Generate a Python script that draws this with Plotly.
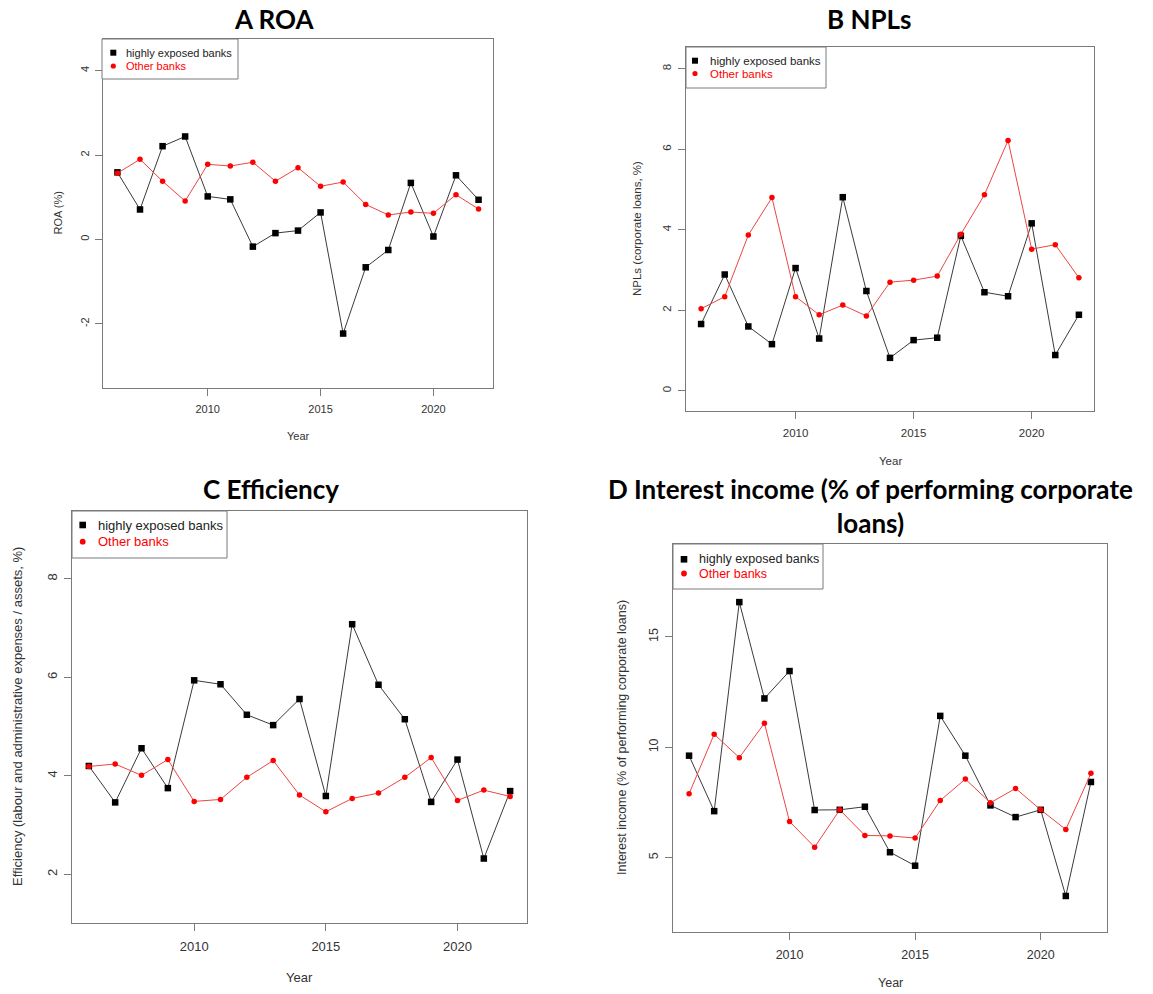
import plotly.graph_objects as go

W, H = 1153, 994

years = list(range(2006, 2023))
x_tick_vals = [2010, 2015, 2020]
x_tick_text = ["2010", "2015", "2020"]

# Panel A: ROA (%)
roa_high = [1.59, 0.71, 2.21, 2.44, 1.02, 0.95, -0.17, 0.15, 0.21, 0.64, -2.23, -0.66, -0.25, 1.34, 0.07, 1.52, 0.94]
roa_other = [1.57, 1.90, 1.38, 0.91, 1.78, 1.74, 1.83, 1.38, 1.70, 1.26, 1.36, 0.83, 0.58, 0.65, 0.62, 1.06, 0.72]
roa_ticks = [-2, 0, 2, 4]
roa_tick_text = ["-2", "0", "2", "4"]

# Panel B: NPLs (corporate loans, %)
npl_high = [1.66, 2.89, 1.60, 1.16, 3.05, 1.30, 4.81, 2.48, 0.82, 1.26, 1.32, 3.85, 2.45, 2.35, 4.16, 0.89, 1.89]
npl_other = [2.04, 2.34, 3.87, 4.80, 2.34, 1.89, 2.13, 1.86, 2.70, 2.75, 2.85, 3.89, 4.87, 6.22, 3.52, 3.63, 2.81]
npl_ticks = [0, 2, 4, 6, 8]
npl_tick_text = ["0", "2", "4", "6", "8"]

# Panel C: Efficiency
eff_high = [4.20, 3.46, 4.56, 3.75, 5.94, 5.86, 5.24, 5.03, 5.56, 3.59, 7.08, 5.85, 5.15, 3.47, 4.33, 2.32, 3.69]
eff_other = [4.19, 4.24, 4.01, 4.33, 3.48, 3.52, 3.97, 4.31, 3.61, 3.27, 3.54, 3.65, 3.97, 4.37, 3.50, 3.71, 3.58]
eff_ticks = [2, 4, 6, 8]
eff_tick_text = ["2", "4", "6", "8"]

# Panel D: Interest income
ii_high = [9.62, 7.11, 16.57, 12.21, 13.45, 7.16, 7.17, 7.31, 5.25, 4.64, 11.42, 9.62, 7.37, 6.84, 7.17, 3.27, 8.43]
ii_other = [7.90, 10.59, 9.53, 11.09, 6.64, 5.48, 7.17, 6.01, 5.99, 5.89, 7.59, 8.56, 7.49, 8.14, 7.17, 6.28, 8.82]
ii_ticks = [5, 10, 15]
ii_tick_text = ["5", "10", "15"]

series_names = ["highly exposed banks", "Other banks"]

panels = [
    dict(title="A ROA", title_xy=(274, 19), box=(103, 39, 493, 388), font=11,
         yr=[-3.52, 4.75], high=roa_high, other=roa_other, yt=roa_ticks, ytt=roa_tick_text,
         ytitle="ROA (%)", ytitle_x=57, xtitle_y=436,
         leg=dict(box=(102, 39, 238, 79), mx=113.3, rows=(52.7, 66.0), tx=124.3)),
    dict(title="B NPLs", title_xy=(869, 19), box=(686, 47, 1094, 411), font=11.5,
         yr=[-0.50, 8.54], high=npl_high, other=npl_other, yt=npl_ticks, ytt=npl_tick_text,
         ytitle="NPLs (corporate loans, %)", ytitle_x=637, xtitle_y=461,
         leg=dict(box=(686, 47, 826, 88), mx=695.0, rows=(60.7, 73.5), tx=707.7)),
    dict(title="C Efficiency", title_xy=(271, 489), box=(72, 511, 527, 923), font=13,
         yr=[1.01, 9.38], high=eff_high, other=eff_other, yt=eff_ticks, ytt=eff_tick_text,
         ytitle="Efficiency (labour and administrative expenses / assets, %)", ytitle_x=17,
         xtitle_y=977,
         leg=dict(box=(72, 511, 227, 558), mx=82.7, rows=(525.0, 541.7), tx=96.0)),
    dict(title="D Interest income (% of performing corporate<br>loans)", title_xy=(870, 506),
         box=(673, 544, 1107, 932), font=12.5,
         yr=[1.64, 19.2], high=ii_high, other=ii_other, yt=ii_ticks, ytt=ii_tick_text,
         ytitle="Interest income (% of performing corporate loans)", ytitle_x=622,
         xtitle_y=983,
         leg=dict(box=(673, 544, 823, 589), mx=684.0, rows=(559.3, 573.5), tx=697.3)),
]

fig = go.Figure()
layout = dict(width=W, height=H, margin=dict(l=0, r=0, t=0, b=0),
              paper_bgcolor="white", plot_bgcolor="white", showlegend=False)
annotations = []
shapes = []

BOX = "#7a7a7a"
TXT = "#333333"
FONT = "Liberation Sans, Arial"


def px(x):
    return x / W


def py(y):
    return 1 - y / H


for i, p in enumerate(panels):
    n = "" if i == 0 else str(i + 1)
    xa, ya = "x" + n, "y" + n
    x0, y0, x1, y1 = p["box"]
    fs = p["font"]
    # lines
    fig.add_trace(go.Scatter(x=years, y=p["high"], mode="lines", xaxis=xa, yaxis=ya,
                             line=dict(color="#3a3a3a", width=1), name=series_names[0],
                             hoverinfo="skip"))
    fig.add_trace(go.Scatter(x=years, y=p["high"], mode="markers", xaxis=xa, yaxis=ya,
                             marker=dict(symbol="square", color="black", size=6.5),
                             name=series_names[0]))
    fig.add_trace(go.Scatter(x=years, y=p["other"], mode="lines", xaxis=xa, yaxis=ya,
                             line=dict(color="#ee4444", width=1), name=series_names[1],
                             hoverinfo="skip"))
    fig.add_trace(go.Scatter(x=years, y=p["other"], mode="markers", xaxis=xa, yaxis=ya,
                             marker=dict(symbol="circle", color="#ff0000", size=5.5),
                             name=series_names[1]))
    axis_common = dict(showline=True, linecolor=BOX, linewidth=1, mirror=True,
                       showgrid=False, zeroline=False, ticks="outside", ticklen=7,
                       tickcolor=BOX, tickwidth=1,
                       tickfont=dict(family=FONT, size=fs, color=TXT))
    layout["xaxis" + n] = dict(axis_common, domain=[px(x0), px(x1)], range=[2005.36, 2022.64],
                               anchor=ya, tickvals=x_tick_vals, ticktext=x_tick_text,
                               ticklabelstandoff=4)
    layout["yaxis" + n] = dict(axis_common, domain=[py(y1), py(y0)], range=p["yr"],
                               anchor=xa, tickvals=p["yt"], ticktext=p["ytt"], tickangle=-90,
                               ticklabelstandoff=2)

    # legend box (R-style, inside top-left of the plot region)
    lg = p["leg"]
    lx0, ly0, lx1, ly1 = lg["box"]
    shapes.append(dict(type="rect", xref="paper", yref="paper",
                       x0=px(lx0), x1=px(lx1), y0=py(ly1), y1=py(ly0),
                       line=dict(color=BOX, width=1), fillcolor="white", layer="above"))
    mx = lg["mx"]
    r1, r2 = lg["rows"]
    sq = 3.0 if fs < 12 else 3.3
    ci = 2.6 if fs < 12 else 2.9
    shapes.append(dict(type="rect", xref="paper", yref="paper",
                       x0=px(mx - sq), x1=px(mx + sq), y0=py(r1 + sq), y1=py(r1 - sq),
                       line=dict(width=0), fillcolor="black", layer="above"))
    shapes.append(dict(type="circle", xref="paper", yref="paper",
                       x0=px(mx - ci), x1=px(mx + ci), y0=py(r2 + ci), y1=py(r2 - ci),
                       line=dict(width=0), fillcolor="#ff0000", layer="above"))
    annotations.append(dict(text=series_names[0], x=px(lg["tx"]), y=py(r1),
                            xref="paper", yref="paper", showarrow=False,
                            xanchor="left", yanchor="middle",
                            font=dict(family=FONT, size=fs, color="#222222")))
    annotations.append(dict(text=series_names[1], x=px(lg["tx"]), y=py(r2),
                            xref="paper", yref="paper", showarrow=False,
                            xanchor="left", yanchor="middle",
                            font=dict(family=FONT, size=fs, color="#ff0000")))

    # panel title
    tx, ty = p["title_xy"]
    annotations.append(dict(text="<b>" + p["title"] + "</b>", x=px(tx), y=py(ty),
                            xref="paper", yref="paper", showarrow=False,
                            xanchor="center", yanchor="middle",
                            font=dict(family="Lato", size=26, color="black")))
    # axis titles
    annotations.append(dict(text="Year", x=px((x0 + x1) / 2), y=py(p["xtitle_y"]),
                            xref="paper", yref="paper", showarrow=False,
                            xanchor="center", yanchor="middle",
                            font=dict(family=FONT, size=fs, color=TXT)))
    annotations.append(dict(text=p["ytitle"], x=px(p["ytitle_x"]), y=py((y0 + y1) / 2),
                            xref="paper", yref="paper", showarrow=False, textangle=-90,
                            xanchor="center", yanchor="middle",
                            font=dict(family=FONT, size=fs, color=TXT)))

layout["annotations"] = annotations
layout["shapes"] = shapes
fig.update_layout(**layout)
fig.write_html("out.html")
